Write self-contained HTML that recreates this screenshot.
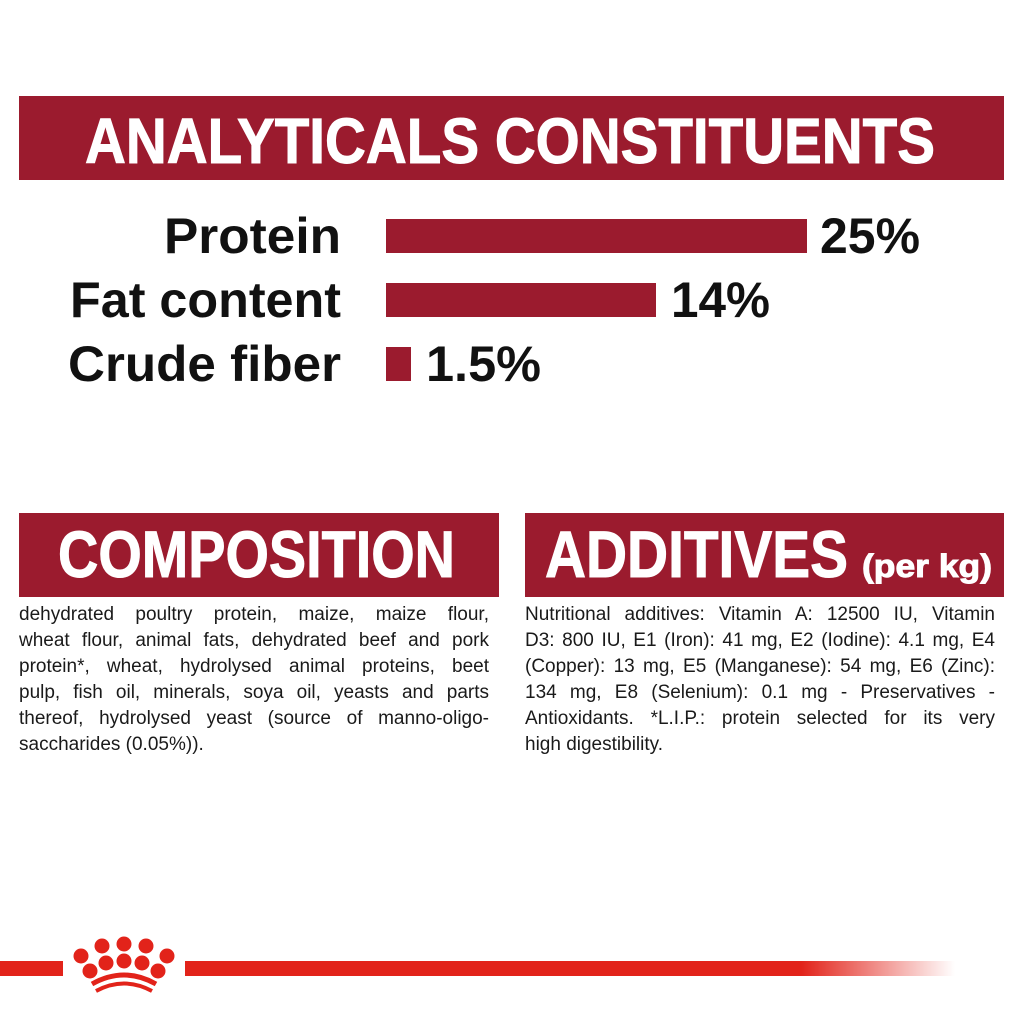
<!DOCTYPE html>
<html><head><style>
body{margin:0;width:1024px;height:1024px;background:#fff;overflow:hidden;position:relative;font-family:"Liberation Sans",sans-serif}
.t{position:absolute;font-size:19px;color:#1a1a1a;line-height:26px;width:470px}
.t div{text-align:justify;text-align-last:justify;white-space:nowrap;height:26px}
.t div.l{text-align-last:left}
</style></head><body>
<svg width="1024" height="1024" style="position:absolute;left:0;top:0">
<defs><linearGradient id="g" x1="0" x2="1"><stop offset="0.8" stop-color="#e2231a"/><stop offset="1" stop-color="#e2231a" stop-opacity="0"/></linearGradient></defs>
<rect x="19" y="96" width="985" height="84" fill="#9b1b2e"/>
<text x="85" y="163" textLength="850" lengthAdjust="spacingAndGlyphs" font-family="Liberation Sans" font-weight="bold" font-size="64" fill="#fff" stroke="#fff" stroke-width="1">ANALYTICALS CONSTITUENTS</text>
<g font-family="Liberation Sans" font-weight="bold" font-size="50" fill="#111">
<text x="164" y="253" textLength="177" lengthAdjust="spacingAndGlyphs">Protein</text>
<text x="70" y="317" textLength="271" lengthAdjust="spacingAndGlyphs">Fat content</text>
<text x="68" y="381" textLength="273" lengthAdjust="spacingAndGlyphs">Crude fiber</text>
<text x="820" y="253" textLength="100" lengthAdjust="spacingAndGlyphs">25%</text>
<text x="671" y="317" textLength="99" lengthAdjust="spacingAndGlyphs">14%</text>
<text x="426" y="381" textLength="115" lengthAdjust="spacingAndGlyphs">1.5%</text>
</g>
<rect x="386" y="219" width="421" height="34" fill="#9b1b2e"/>
<rect x="386" y="283" width="270" height="34" fill="#9b1b2e"/>
<rect x="386" y="347" width="25" height="34" fill="#9b1b2e"/>
<rect x="19" y="513" width="480" height="84" fill="#9b1b2e"/>
<rect x="525" y="513" width="479" height="84" fill="#9b1b2e"/>
<g font-family="Liberation Sans" font-weight="bold" fill="#fff" stroke="#fff" stroke-width="1">
<text x="58" y="577" textLength="397" lengthAdjust="spacingAndGlyphs" font-size="66">COMPOSITION</text>
<text x="545" y="577" textLength="303" lengthAdjust="spacingAndGlyphs" font-size="66">ADDITIVES</text>
<text x="862" y="577" textLength="130" lengthAdjust="spacingAndGlyphs" font-size="32">(per kg)</text>
</g>
<rect x="0" y="961" width="63" height="15" fill="#e2231a"/>
<rect x="185" y="961" width="770" height="15" fill="url(#g)"/>
<g fill="#e2231a">
<circle cx="81" cy="956" r="7.5"/><circle cx="102" cy="946" r="7.5"/><circle cx="124" cy="944" r="7.5"/><circle cx="146" cy="946" r="7.5"/><circle cx="167" cy="956" r="7.5"/>
<circle cx="90" cy="971" r="7.5"/><circle cx="106" cy="963" r="7.5"/><circle cx="124" cy="961" r="7.5"/><circle cx="142" cy="963" r="7.5"/><circle cx="158" cy="971" r="7.5"/>
</g>
<path d="M92 984 Q124 966 156 984" stroke="#e2231a" stroke-width="5" fill="none"/>
<path d="M96 991 Q124 976 152 991" stroke="#e2231a" stroke-width="4" fill="none"/>
</svg>
<div class="t" style="left:19px;top:602px">
<div>dehydrated poultry protein, maize, maize flour,</div>
<div>wheat flour, animal fats, dehydrated beef and pork</div>
<div>protein*, wheat, hydrolysed animal proteins, beet</div>
<div>pulp, fish oil, minerals, soya oil, yeasts and parts</div>
<div>thereof, hydrolysed yeast (source of manno-oligo-</div>
<div class="l">saccharides (0.05%)).</div>
</div>
<div class="t" style="left:525px;top:602px">
<div>Nutritional additives: Vitamin A: 12500 IU, Vitamin</div>
<div>D3: 800 IU, E1 (Iron): 41 mg, E2 (Iodine): 4.1 mg, E4</div>
<div>(Copper): 13 mg, E5 (Manganese): 54 mg, E6 (Zinc):</div>
<div>134 mg, E8 (Selenium): 0.1 mg - Preservatives -</div>
<div>Antioxidants. *L.I.P.: protein selected for its very</div>
<div class="l">high digestibility.</div>
</div>
</body></html>
